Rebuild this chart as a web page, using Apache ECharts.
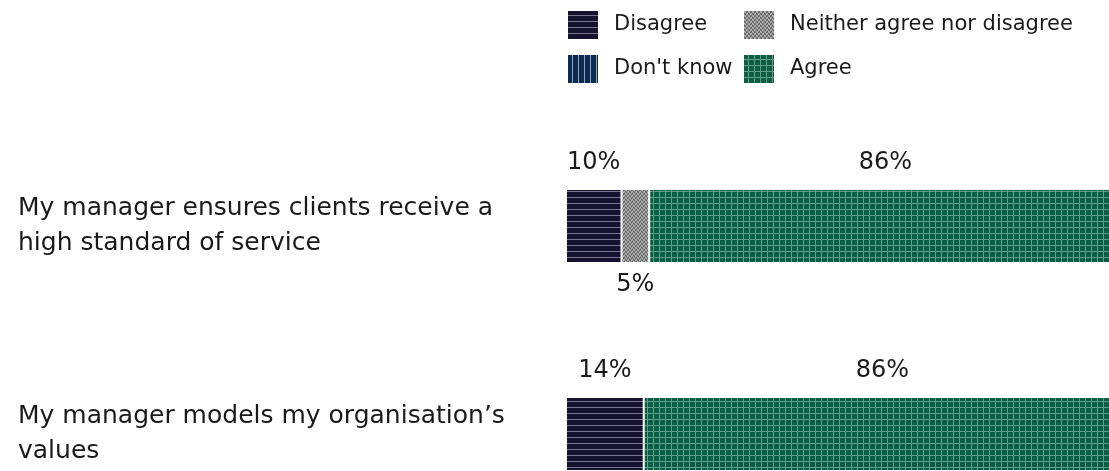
<!DOCTYPE html>
<html><head><meta charset="utf-8">
<script src="https://cdn.jsdelivr.net/npm/echarts@6/dist/echarts.min.js"></script>
<style>html,body{margin:0;padding:0;background:#fff}#c{width:1109px;height:471px}</style>
</head><body><div id="c"></div>
<script>
const categories = ["My manager ensures clients receive a\nhigh standard of service", "My manager models my organisation\u2019s\nvalues"];
const disagree = [10, 14];
const neither = [5, 0];
const dontKnow = [0, 0];
const agree = [86, 86];

function pattern(bg, fg, kind, w, h) {
  const c = document.createElement('canvas');
  c.width = w; c.height = h;
  const x = c.getContext('2d');
  x.fillStyle = bg; x.fillRect(0, 0, w, h);
  x.fillStyle = fg;
  if (kind === 'h') x.fillRect(0, h - 1, w, 1);
  if (kind === 'v') x.fillRect(w - 1, 0, 1, h);
  if (kind === 'grid') { x.fillRect(0, h - 1, w, 1); x.fillRect(w - 1, 0, 1, h); }
  if (kind === 'noise') {
    const cols = ['#a0a0a0', '#5c5c5c', '#7c7c7c', '#b8b8b8'];
    const m = [[0,2,1,3],[1,3,0,2],[2,0,3,1],[3,1,2,0]];
    for (let i = 0; i < h; i++) for (let j = 0; j < w; j++) { x.fillStyle = cols[m[i % 4][j % 4]]; x.fillRect(j, i, 1, 1); }
  }
  return { image: c, repeat: 'repeat' };
}
const pDis = pattern('#15122f', '#77758e', 'h', 6, 6);
const pNei = pattern('#808080', '#808080', 'noise', 4, 4);
const pDk = pattern('#0d2b52', '#8ea2bd', 'v', 6, 6);
const pAg = pattern('#0b5d43', '#5a9f86', 'grid', 6, 6);

const FONT = 'DejaVu Sans';
const TXT = '#1a1a1a';
function lbl(pos, dist) {
  return { show: true, position: pos, distance: dist, fontFamily: FONT, fontSize: 24, color: TXT,
    formatter: p => p.value > 0 ? p.value + '%' : '' };
}
function ser(name, data, color, label) {
  return { name, type: 'bar', stack: 's', data, barWidth: 74,
    itemStyle: { color, borderColor: '#fff', borderWidth: 1 },
    label, emphasis: { disabled: true } };
}
const legendCommon = { orient: 'vertical', top: 9, padding: 0, itemWidth: 32, itemHeight: 30, itemGap: 12, icon: 'rect',
  textStyle: { fontFamily: FONT, fontSize: 21, color: TXT, lineHeight: 26, padding: [0, 0, 4, 10] }, selectedMode: false };
const chart = echarts.init(document.getElementById('c'), null, { renderer: 'canvas' });
chart.setOption({
  animation: false,
  legend: [
    Object.assign({ data: ['Disagree', "Don't know"], left: 566 }, legendCommon),
    Object.assign({ data: ['Neither agree nor disagree', 'Agree'], left: 742 }, legendCommon)
  ],
  grid: { left: 566, top: 122, width: 555, height: 416, containLabel: false, outerBoundsMode: 'none' },
  xAxis: { type: 'value', min: 0, max: 100, show: false },
  yAxis: { type: 'category', data: categories, inverse: true,
    axisLine: { show: false }, axisTick: { show: false },
    axisLabel: { align: 'left', margin: 548, fontFamily: FONT, fontSize: 25, color: TXT, lineHeight: 35 } },
  series: [
    ser('Disagree', disagree, pDis, lbl('top', 14)),
    ser('Neither agree nor disagree', neither, pNei, lbl('bottom', 10)),
    ser("Don't know", dontKnow, pDk, { show: false }),
    ser('Agree', agree, pAg, lbl('top', 14))
  ]
});
</script></body></html>
